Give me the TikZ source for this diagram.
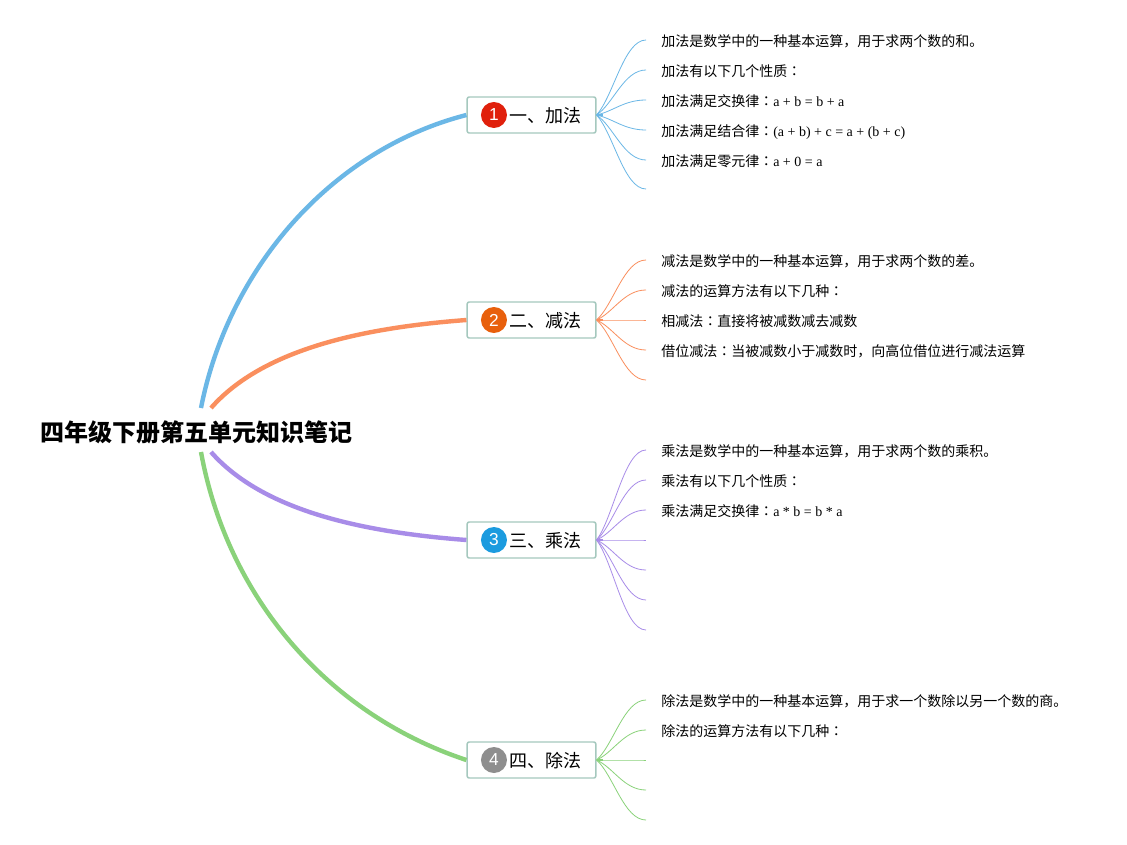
\documentclass[tikz,border=0pt]{standalone}
\usepackage{fontspec}
\setmainfont{Liberation Serif}
\setsansfont{Liberation Sans}
\newfontfamily\cjk{Noto Sans CJK SC}
\newfontfamily\cjkjp{Noto Sans CJK JP}
\newcommand{\midcolon}{{\cjkjp ：}}
\usetikzlibrary{calc,positioning}
\definecolor{addc}{HTML}{6BB7E6}
\definecolor{subc}{HTML}{FA8F5E}
\definecolor{mulc}{HTML}{A88CE8}
\definecolor{divc}{HTML}{8AD27A}
\definecolor{topicedge}{HTML}{A5C8BE}

\begin{document}
\begin{tikzpicture}[
  x=0.75pt, y=-0.75pt,
  root/.style={font=\cjk\bfseries\fontsize{18}{22}\selectfont, inner sep=0, minimum height=33pt},
  topicbox/.style={draw=topicedge, line width=1.1pt, fill=white, rounded corners=1.5pt, inner sep=0,
    minimum width=96.5pt, minimum height=27pt, text height=13.5pt, text depth=1.7pt,
    font=\cjk\fontsize{13.5}{16}\selectfont},
  badge/.style={circle, inner sep=0, minimum size=19.5pt, text=white, font=\sffamily\fontsize{13}{16}\selectfont},
  leaf/.style={anchor=west, inner xsep=11.25pt, inner ysep=0, text height=10.9pt, text depth=1.5pt,
    font=\cjk\fontsize{10.5}{13}\selectfont},
  main/.style={line width=3.3pt},
  stub/.style={line width=1.5pt},
  twig/.style={line width=0.6pt}
]
\fill[white] (0,0) rectangle (1127,845);
\useasboundingbox (0,0) rectangle (1127,845);

\node[root] (title) at (196,432) {四年级下册第五单元知识笔记};
\coordinate (titleA) at (201,408);
\coordinate (titleB) at (211,408);
\coordinate (titleC) at (211,452);
\coordinate (titleD) at (201,452);

% topics
\node[topicbox] (add) at (531.5,115) {\hspace{21.5pt}一、加法};
\node[topicbox] (sub) at (531.5,320) {\hspace{21.5pt}二、减法};
\node[topicbox] (mul) at (531.5,540) {\hspace{21.5pt}三、乘法};
\node[topicbox] (div) at (531.5,760) {\hspace{21.5pt}四、除法};
\node[badge, fill={rgb,255:red,224;green,32;blue,12}, right=10.7pt of add.west] (addnum) {1};
\node[badge, fill={rgb,255:red,232;green,96;blue,12}, right=10.7pt of sub.west] (subnum) {2};
\node[badge, fill={rgb,255:red,27;green,155;blue,223}, right=10.7pt of mul.west] (mulnum) {3};
\node[badge, fill={rgb,255:red,142;green,142;blue,142}, right=10.7pt of div.west] (divnum) {4};
\coordinate (addhub) at ($(add.east)+(6,0)$);
\coordinate (subhub) at ($(sub.east)+(6,0)$);
\coordinate (mulhub) at ($(mul.east)+(6,0)$);
\coordinate (divhub) at ($(div.east)+(6,0)$);

% leaves
\node[leaf] (add1) at (646,40) {加法是数学中的一种基本运算，用于求两个数的和。};
\node[leaf] (add2) at (646,70) {加法有以下几个性质\midcolon};
\node[leaf] (add3) at (646,100) {加法满足交换律\midcolon{\rmfamily a + b = b + a}};
\node[leaf] (add4) at (646,130) {加法满足结合律\midcolon{\rmfamily (a + b) + c = a + (b + c)}};
\node[leaf] (add5) at (646,160) {加法满足零元律\midcolon{\rmfamily a + 0 = a}};
\coordinate (add6) at (646,189);

\node[leaf] (sub1) at (646,260) {减法是数学中的一种基本运算，用于求两个数的差。};
\node[leaf] (sub2) at (646,290) {减法的运算方法有以下几种\midcolon};
\node[leaf] (sub3) at (646,320) {相减法\midcolon 直接将被减数减去减数};
\node[leaf] (sub4) at (646,350) {借位减法\midcolon 当被减数小于减数时，向高位借位进行减法运算};
\coordinate (sub5) at (646,380);

\node[leaf] (mul1) at (646,450) {乘法是数学中的一种基本运算，用于求两个数的乘积。};
\node[leaf] (mul2) at (646,480) {乘法有以下几个性质\midcolon};
\node[leaf] (mul3) at (646,510) {乘法满足交换律\midcolon{\rmfamily a * b = b * a}};
\coordinate (mul4) at (646,540);
\coordinate (mul5) at (646,570);
\coordinate (mul6) at (646,600);
\coordinate (mul7) at (646,630);

\node[leaf] (div1) at (646,700) {除法是数学中的一种基本运算，用于求一个数除以另一个数的商。};
\node[leaf] (div2) at (646,730) {除法的运算方法有以下几种\midcolon};
\coordinate (div3) at (646,760);
\coordinate (div4) at (646,790);
\coordinate (div5) at (646,820);

% main branches
\draw[main, addc] (titleA) .. controls (228,270) and (330,150) .. (add.west);
\draw[main, subc] (titleB) .. controls (262,350) and (360,328) .. (sub.west);
\draw[main, mulc] (titleC) .. controls (262,510) and (360,532) .. (mul.west);
\draw[main, divc] (titleD) .. controls (228,600) and (330,715) .. (div.west);

% twigs
\draw[stub, addc] (add.east) -- (addhub);
\draw[stub, subc] (sub.east) -- (subhub);
\draw[stub, mulc] (mul.east) -- (mulhub);
\draw[stub, divc] (div.east) -- (divhub);
\foreach \i/\a in {1/west,2/west,3/west,4/west,5/west,6/center}
  \draw[twig, addc] (add.east) .. controls ($(addhub)!.25!(add\i.\a)$) and ($(add\i.\a)+(-22,0)$) .. (add\i.\a);
\foreach \i/\a in {1/west,2/west,3/west,4/west,5/center}
  \draw[twig, subc] (sub.east) .. controls ($(subhub)!.25!(sub\i.\a)$) and ($(sub\i.\a)+(-22,0)$) .. (sub\i.\a);
\foreach \i/\a in {1/west,2/west,3/west,4/center,5/center,6/center,7/center}
  \draw[twig, mulc] (mul.east) .. controls ($(mulhub)!.25!(mul\i.\a)$) and ($(mul\i.\a)+(-22,0)$) .. (mul\i.\a);
\foreach \i/\a in {1/west,2/west,3/center,4/center,5/center}
  \draw[twig, divc] (div.east) .. controls ($(divhub)!.25!(div\i.\a)$) and ($(div\i.\a)+(-22,0)$) .. (div\i.\a);
\end{tikzpicture}
\end{document}
